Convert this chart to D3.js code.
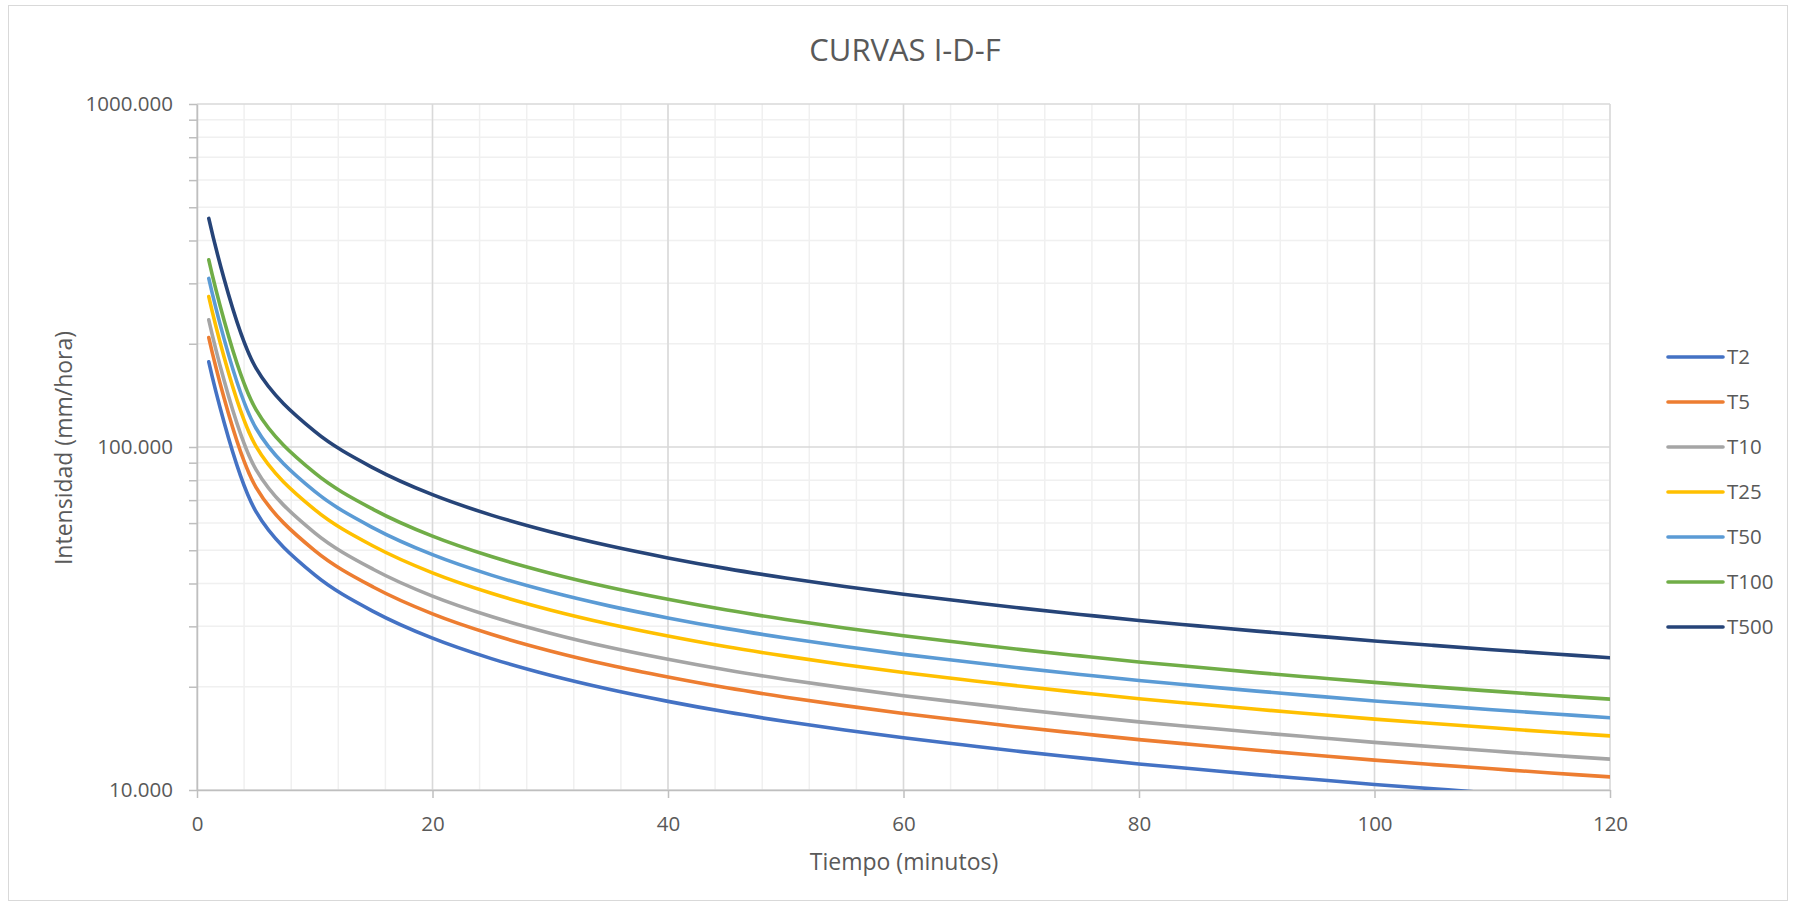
<!DOCTYPE html>
<html>
<head>
<meta charset="utf-8">
<script src="https://cdn.jsdelivr.net/npm/d3@7"></script>
<style>
  body { margin: 0; background: #fff; }
  svg { display: block; font-family: "Open Sans", sans-serif; }
</style>
</head>
<body>
<svg id="chart" width="1793" height="906"></svg>
<script>
// Curvas I-D-F : intensidad (mm/hora) vs duración (minutos), eje Y logarítmico

const durations = [1, 5, 10, 15, 20, 25, 30, 35, 40, 45, 50, 55, 60, 65, 70, 75, 80, 85, 90, 95, 100, 105, 110, 115, 120];

const T2   = [177.1, 64.89, 42.37, 33.13, 27.71, 24.16, 21.60, 19.66, 18.13, 16.87, 15.84, 14.96, 14.20, 13.55, 12.94, 12.41, 11.91, 11.49, 11.09, 10.73, 10.38, 10.08, 9.79, 9.52, 9.28];
const T5   = [208.5, 76.40, 49.88, 39.01, 32.63, 28.45, 25.44, 23.14, 21.35, 19.86, 18.65, 17.62, 16.72, 15.95, 15.23, 14.61, 14.02, 13.53, 13.06, 12.63, 12.22, 11.86, 11.53, 11.21, 10.92];
const T10  = [234.9, 86.07, 56.20, 43.95, 36.76, 32.05, 28.66, 26.07, 24.05, 22.38, 21.01, 19.85, 18.83, 17.97, 17.16, 16.45, 15.80, 15.24, 14.71, 14.23, 13.77, 13.37, 12.99, 12.63, 12.30];
const T25  = [274.5, 100.6, 65.68, 51.36, 42.96, 37.45, 33.49, 30.47, 28.11, 26.15, 24.56, 23.19, 22.01, 21.00, 20.06, 19.23, 18.46, 17.81, 17.19, 16.63, 16.09, 15.62, 15.18, 14.76, 14.38];
const T50  = [310.1, 113.6, 74.19, 58.02, 48.53, 42.31, 37.83, 34.42, 31.75, 29.54, 27.74, 26.20, 24.86, 23.73, 22.66, 21.72, 20.85, 20.12, 19.42, 18.78, 18.18, 17.65, 17.14, 16.68, 16.24];
const T100 = [351.2, 128.7, 84.00, 65.71, 54.96, 47.92, 42.85, 38.99, 35.96, 33.46, 31.42, 29.67, 28.16, 26.87, 25.66, 24.60, 23.62, 22.79, 21.99, 21.27, 20.59, 19.98, 19.42, 18.89, 18.40];
const T500 = [464.0, 170.0, 111.0, 86.80, 72.60, 63.30, 56.60, 51.50, 47.50, 44.20, 41.50, 39.20, 37.20, 35.50, 33.90, 32.50, 31.20, 30.10, 29.05, 28.10, 27.20, 26.40, 25.65, 24.95, 24.30];

const seriesNames = ["T2", "T5", "T10", "T25", "T50", "T100", "T500"];
const seriesValues = [T2, T5, T10, T25, T50, T100, T500];

const xTicks = [0, 20, 40, 60, 80, 100, 120];
const xMinorTicks = d3.range(0, 121, 4);
const yTicks = [10, 100, 1000];
const yMinorTicks = [20, 30, 40, 50, 60, 70, 80, 90, 200, 300, 400, 500, 600, 700, 800, 900];

const colors = ["#4472C4", "#ED7D31", "#A5A5A5", "#FFC000", "#5B9BD5", "#70AD47", "#264478"];
const textColor = "#595959";

const margin = {left: 197, right: 1610, top: 104, bottom: 790};

const x = d3.scaleLinear([0, 120], [margin.left, margin.right]);
const y = d3.scaleLog([10, 1000], [margin.bottom, margin.top]);
const color = d3.scaleOrdinal(seriesNames, colors);

const svg = d3.select("#chart");

// chart area border
svg.append("rect")
    .attr("x", 8.5).attr("y", 5.5)
    .attr("width", 1779).attr("height", 895)
    .attr("fill", "#fff")
    .attr("stroke", "#d9d9d9");

svg.append("defs").append("clipPath")
    .attr("id", "plot-clip")
  .append("rect")
    .attr("x", margin.left).attr("y", margin.top)
    .attr("width", margin.right - margin.left)
    .attr("height", margin.bottom - margin.top);

// gridlines (minor first, then major)
const grid = svg.append("g");
grid.selectAll(".xminor")
  .data(xMinorTicks)
  .join("line")
    .attr("x1", d => x(d)).attr("x2", d => x(d))
    .attr("y1", margin.top).attr("y2", margin.bottom)
    .attr("stroke", "#f0f0f0").attr("stroke-width", 1.5);
grid.selectAll(".yminor")
  .data(yMinorTicks)
  .join("line")
    .attr("x1", margin.left).attr("x2", margin.right)
    .attr("y1", d => y(d)).attr("y2", d => y(d))
    .attr("stroke", "#f0f0f0").attr("stroke-width", 1.5);
grid.selectAll(".xmajor")
  .data(xTicks)
  .join("line")
    .attr("x1", d => x(d)).attr("x2", d => x(d))
    .attr("y1", margin.top).attr("y2", margin.bottom)
    .attr("stroke", "#d9d9d9").attr("stroke-width", 1.5);
grid.selectAll(".ymajor")
  .data(yTicks)
  .join("line")
    .attr("x1", margin.left).attr("x2", margin.right)
    .attr("y1", d => y(d)).attr("y2", d => y(d))
    .attr("stroke", "#d9d9d9").attr("stroke-width", 1.5);

// axes
const fmt = d3.format(".3f");

const xAxis = svg.append("g")
    .attr("transform", `translate(0,${margin.bottom})`)
    .call(d3.axisBottom(x).tickValues(xTicks).tickSize(8).tickPadding(18).tickSizeOuter(0));

const yAxis = svg.append("g")
    .attr("transform", `translate(${margin.left},0)`)
    .call(d3.axisLeft(y)
      .tickValues(yTicks.concat(yMinorTicks))
      .tickFormat(d => yTicks.includes(d) ? fmt(d) : "")
      .tickSize(8).tickPadding(16).tickSizeOuter(0));

[xAxis, yAxis].forEach(g => {
  g.select(".domain").attr("stroke", "#bfbfbf").attr("stroke-width", 1.5);
  g.selectAll(".tick line").attr("stroke", "#bfbfbf").attr("stroke-width", 1.5);
  g.selectAll(".tick text")
      .attr("fill", textColor)
      .style("font-size", "20.5px")
      .style("font-family", "'Open Sans', sans-serif");
});

// series
const line = d3.line()
    .x(d => x(d[0]))
    .y(d => y(d[1]))
    .curve(d3.curveCatmullRom.alpha(0.5));

svg.append("g")
    .attr("clip-path", "url(#plot-clip)")
    .attr("fill", "none")
    .attr("stroke-width", 3.6)
    .attr("stroke-linecap", "round")
    .attr("stroke-linejoin", "round")
  .selectAll("path")
  .data(seriesNames)
  .join("path")
    .attr("stroke", d => color(d))
    .attr("d", (d, i) => line(durations.map((t, j) => [t, seriesValues[i][j]])));

// titles
svg.append("text")
    .attr("x", 905).attr("y", 61)
    .attr("text-anchor", "middle")
    .attr("fill", textColor)
    .style("font-size", "31px")
    .text("CURVAS I-D-F");

svg.append("text")
    .attr("x", 904).attr("y", 870)
    .attr("text-anchor", "middle")
    .attr("fill", textColor)
    .style("font-size", "23px")
    .text("Tiempo (minutos)");

svg.append("text")
    .attr("transform", "translate(64,448) rotate(-90)")
    .attr("dy", "0.35em")
    .attr("text-anchor", "middle")
    .attr("fill", textColor)
    .style("font-size", "23px")
    .text("Intensidad (mm/hora)");

// legend
const legend = svg.append("g")
  .selectAll("g")
  .data(seriesNames)
  .join("g")
    .attr("transform", (d, i) => `translate(1668,${357 + i * 45})`);

legend.append("line")
    .attr("x1", 0).attr("x2", 55)
    .attr("stroke", d => color(d))
    .attr("stroke-width", 3.6)
    .attr("stroke-linecap", "round");

legend.append("text")
    .attr("x", 59)
    .attr("dy", "0.35em")
    .attr("fill", textColor)
    .style("font-size", "20.5px")
    .text(d => d);
</script>
</body>
</html>
